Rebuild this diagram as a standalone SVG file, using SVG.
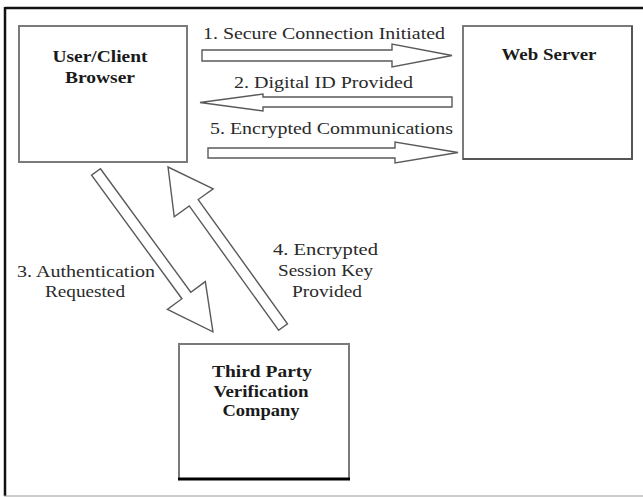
<svg xmlns="http://www.w3.org/2000/svg" width="643" height="497" viewBox="0 0 643 497">
  <style>
    .box { fill: #ffffff; stroke: #7a7a7a; stroke-width: 2; }
    .node-label { font-family: "Liberation Serif", "Times New Roman", serif; font-weight: bold; font-size: 17px; fill: #1a1a1a; text-anchor: middle; }
    .edge-label { font-family: "Liberation Serif", "Times New Roman", serif; font-size: 17px; fill: #2a2a2a; }
    .block-arrow { fill: #ffffff; stroke: #5a5a5a; stroke-width: 1.4; stroke-linejoin: miter; }
  </style>

  <rect x="0" y="0" width="643" height="497" fill="#ffffff"/>

  <!-- page frame -->
  <g id="frame">
    <line x1="5" y1="8" x2="643" y2="8" stroke="#111" stroke-width="2.5"/>
    <line x1="5" y1="7" x2="5" y2="496" stroke="#111" stroke-width="2.5"/>
    <line x1="4" y1="496" x2="643" y2="496" stroke="#999" stroke-width="1.2"/>
  </g>

  <!-- client -->
  <g id="client">
    <rect class="box" x="19" y="26" width="168" height="136"/>
    <text class="node-label" x="100" y="62" textLength="95" lengthAdjust="spacingAndGlyphs">User/Client</text>
    <text class="node-label" x="100" y="83" textLength="70" lengthAdjust="spacingAndGlyphs">Browser</text>
  </g>

  <!-- web server -->
  <g id="web-server">
    <rect class="box" x="463" y="26" width="169" height="133"/>
    <polyline points="632,26 632,159 463,159" fill="none" stroke="#555" stroke-width="2"/>
    <text class="node-label" x="549" y="60" textLength="95" lengthAdjust="spacingAndGlyphs">Web Server</text>
  </g>

  <!-- verification company -->
  <g id="verifier">
    <rect class="box" x="179" y="344" width="170" height="135"/>
    <line x1="178" y1="479" x2="350" y2="479" stroke="#000" stroke-width="3"/>
    <text class="node-label" x="262" y="377" textLength="100" lengthAdjust="spacingAndGlyphs">Third Party</text>
    <text class="node-label" x="261" y="397" textLength="95" lengthAdjust="spacingAndGlyphs">Verification</text>
    <text class="node-label" x="261" y="416" textLength="77" lengthAdjust="spacingAndGlyphs">Company</text>
  </g>

  <!-- block arrows and their captions -->
  <g id="connectors">
    <!-- 1: client to server -->
    <polygon class="block-arrow" points="202,50 392,50 392,44 452,55.5 392,67 392,61 202,61"/>
    <text class="edge-label" x="203" y="39" textLength="242" lengthAdjust="spacingAndGlyphs">1.  Secure Connection Initiated</text>

    <!-- 2: server to client -->
    <polygon class="block-arrow" points="452,97 263,97 263,94 200,102.5 263,111 263,107 452,107"/>
    <text class="edge-label" x="234" y="88" textLength="179" lengthAdjust="spacingAndGlyphs">2. Digital ID Provided</text>

    <!-- 5: client to server -->
    <polygon class="block-arrow" points="208,148 395,148 395,142 458,152.5 395,163 395,158 208,158"/>
    <text class="edge-label" x="210" y="134" textLength="243" lengthAdjust="spacingAndGlyphs">5.  Encrypted Communications</text>

    <!-- 3: client to verifier -->
    <polygon class="block-arrow" transform="translate(96,172) rotate(53.8)" points="0,-5.5 153,-5.5 153,-23.5 198,0 153,23.5 153,5.5 0,5.5"/>
    <text class="edge-label" x="17" y="277" textLength="138" lengthAdjust="spacingAndGlyphs">3.  Authentication</text>
    <text class="edge-label" x="45" y="297" textLength="80" lengthAdjust="spacingAndGlyphs">Requested</text>

    <!-- 4: verifier to client -->
    <polygon class="block-arrow" transform="translate(283,327) rotate(-125.7)" points="0,-5.5 153,-5.5 153,-24 197,0 153,24 153,5.5 0,5.5"/>
    <text class="edge-label" x="273" y="255" textLength="105" lengthAdjust="spacingAndGlyphs">4.  Encrypted</text>
    <text class="edge-label" x="278" y="276" textLength="95" lengthAdjust="spacingAndGlyphs">Session Key</text>
    <text class="edge-label" x="292" y="297" textLength="70" lengthAdjust="spacingAndGlyphs">Provided</text>
  </g>
</svg>
